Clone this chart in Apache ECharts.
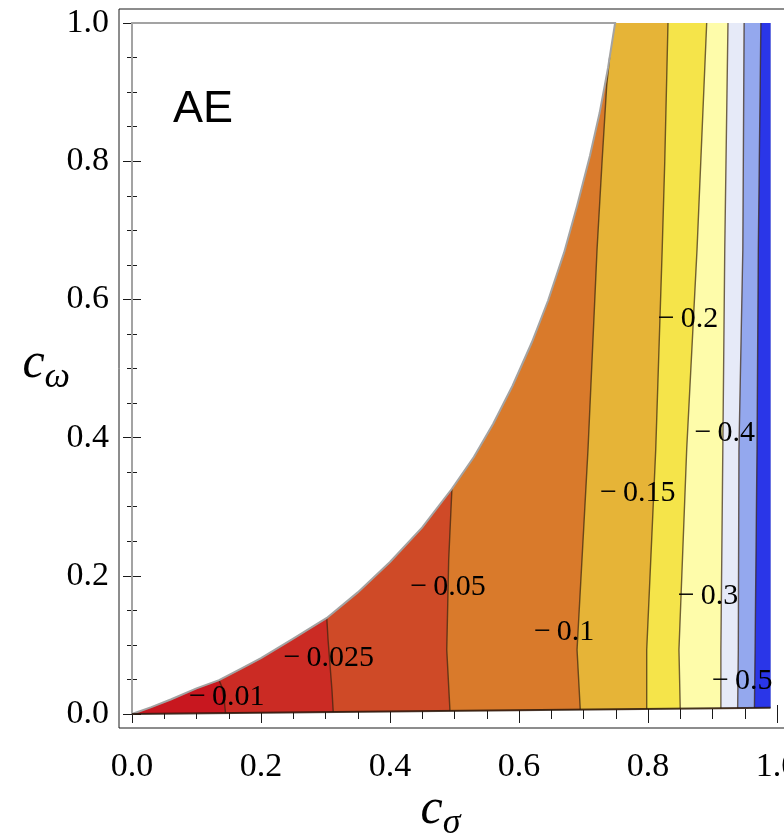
<!DOCTYPE html>
<html>
<head>
<meta charset="utf-8">
<style>
  html, body { margin: 0; padding: 0; background: #fff; }
  #chart { width: 784px; height: 838px; }
</style>
<script src="https://cdn.jsdelivr.net/npm/echarts@6/dist/echarts.min.js"></script>
</head>
<body>
<div id="chart"></div>
<script>
// tick labels
const xTickLabels = ['0.0', '0.2', '0.4', '0.6', '0.8', '1.0'];
const yTickLabels = ['0.0', '0.2', '0.4', '0.6', '0.8', '1.0'];

// upper-left edge of the region, from (0,0) to the top
const edgeUpper = [[0, 0], [0.03, 0.01], [0.06, 0.021], [0.1, 0.037], [0.135, 0.049], [0.17, 0.066],
  [0.2, 0.081], [0.25, 0.109], [0.302, 0.139], [0.35, 0.176], [0.4, 0.22], [0.45, 0.27], [0.496, 0.326],
  [0.53, 0.372], [0.56, 0.42], [0.59, 0.475], [0.62, 0.538], [0.645, 0.598], [0.67, 0.668], [0.69, 0.735],
  [0.71, 0.808], [0.725, 0.87], [0.738, 0.935], [0.749, 1.0]];
// lower edge of the region
const edgeLower = [[0, 0], [0.99, 0.009]];
const xRight = 0.99;

// contour levels, left to right
const levels = ['\u2212\u20090.01', '\u2212\u20090.025', '\u2212\u20090.05', '\u2212\u20090.1', '\u2212\u20090.15',
  '\u2212\u20090.2', '\u2212\u20090.3', '\u2212\u20090.4', '\u2212\u20090.5'];

// contour lines, each from the bottom up
const line001 = [[0.145, 0.0013], [0.143, 0.02], [0.139, 0.04], [0.135, 0.049]];
const line0025 = [[0.312, 0.0028], [0.31, 0.035], [0.304, 0.107], [0.302, 0.139]];
const line005 = [[0.493, 0.0045], [0.488, 0.093], [0.491, 0.223], [0.496, 0.326]];
const line01 = [[0.695, 0.0063], [0.69, 0.093], [0.707, 0.383], [0.721, 0.672], [0.729, 0.803], [0.736, 0.91], [0.7405, 0.95]];
const line015 = [[0.798, 0.0073], [0.798, 0.093], [0.812, 0.383], [0.822, 0.672], [0.826, 0.8], [0.831, 1.0]];
const line02 = [[0.85, 0.0077], [0.848, 0.093], [0.86, 0.383], [0.876, 0.672], [0.891, 1.0]];
const line03 = [[0.913, 0.0083], [0.913, 0.093], [0.916, 0.383], [0.919, 0.672], [0.924, 1.0]];
const line04 = [[0.939, 0.0085], [0.94, 0.093], [0.941, 0.383], [0.947, 0.672], [0.949, 1.0]];
const line05 = [[0.965, 0.0088], [0.966, 0.093], [0.969, 0.383], [0.971, 0.672], [0.975, 1.0]];
const contourLines = [line001, line0025, line005, line01, line015, line02, line03, line04, line05];

// where each contour label sits
const labelPos = [[0.147, 0.025], [0.305, 0.081], [0.49, 0.184], [0.67, 0.119], [0.784, 0.32],
  [0.862, 0.572], [0.893, 0.17], [0.919, 0.406], [0.946, 0.048]];

// fill colours, left band first
const bandColors = ['#C8171F', '#CB2B24', '#CF4A27', '#D97A2B', '#E6B437', '#F5E44A',
  '#FEFCAA', '#E6EAF8', '#94A8EE', '#2A36E8'];

const serif = '"Liberation Serif", "Times New Roman", serif';

function bandPolygon(k) {
  let pts;
  if (k === 0) {
    pts = edgeUpper.slice();
  } else {
    const line = contourLines[k - 1];
    const topY = line[line.length - 1][1];
    pts = line.concat(edgeUpper.filter(p => p[1] > topY));
  }
  pts.push([xRight, 1], [xRight, edgeLower[edgeLower.length - 1][1]]);
  return pts;
}

const tickStyle = { color: '#1a1a1a', width: 1 };
function frameAxis(pos, offset, withLabels) {
  return {
    type: 'value', min: 0, max: 1, interval: 0.2, position: pos, offset: offset,
    axisLine: { show: false },
    axisTick: { show: true, inside: true, length: 9, lineStyle: tickStyle },
    minorTick: { show: true, splitNumber: 4, length: 5, lineStyle: tickStyle },
    splitLine: { show: false },
    minorSplitLine: { show: false },
    axisLabel: { show: withLabels }
  };
}

const xBottom = frameAxis('bottom', 14, true);
xBottom.axisLabel = {
  show: true, margin: 22, color: '#000', fontFamily: serif, fontSize: 34,
  formatter: (v) => xTickLabels[Math.round(v * 5)]
};
xBottom.name = '{c|c}{s|\u03c3}';
xBottom.nameLocation = 'middle';
xBottom.nameGap = 50;
xBottom.nameMoveOverlap = false;
xBottom.nameTextStyle = {
  padding: [0, 28, 0, 0],
  rich: {
    c: { fontFamily: serif, fontStyle: 'italic', fontSize: 50, color: '#000', verticalAlign: 'middle' },
    s: { fontFamily: serif, fontStyle: 'italic', fontSize: 36, color: '#000', verticalAlign: 'middle', padding: [28, 0, 0, 0] }
  }
};

const yLeft = frameAxis('left', 13, true);
yLeft.axisLabel = {
  show: true, margin: 10, color: '#000', fontFamily: serif, fontSize: 34, padding: [11, 0, 0, 0],
  formatter: (v) => yTickLabels[Math.round(v * 5)]
};
yLeft.name = '{c|c}{s|\u03c9}';
yLeft.nameLocation = 'middle';
yLeft.nameRotate = 0;
yLeft.nameGap = 49;
yLeft.nameMoveOverlap = false;
yLeft.nameTextStyle = {
  padding: [0, 0, 9, 0],
  rich: {
    c: { fontFamily: serif, fontStyle: 'italic', fontSize: 50, color: '#000', verticalAlign: 'middle' },
    s: { fontFamily: serif, fontStyle: 'italic', fontSize: 36, color: '#000', verticalAlign: 'middle', padding: [28, 0, 0, 0] }
  }
};

const chart = echarts.init(document.getElementById('chart'), null, { renderer: 'canvas' });

const option = {
  animation: false,
  backgroundColor: '#fff',
  grid: [
    { left: 132, top: 23, right: 7, bottom: 124, outerBoundsMode: 'none', containLabel: false },
    { left: 119, top: 9, width: 666, height: 719, show: true, borderColor: '#1a1a1a', borderWidth: 1,
      backgroundColor: 'transparent', outerBoundsMode: 'none', containLabel: false }
  ],
  xAxis: [
    xBottom,
    frameAxis('top', 14, false),
    { type: 'value', gridIndex: 1, show: false, min: 0, max: 1 }
  ],
  yAxis: [
    yLeft,
    frameAxis('right', 8, false),
    { type: 'value', gridIndex: 1, show: false, min: 0, max: 1 }
  ],
  graphic: [{
    type: 'text', left: 173, top: 87, silent: true,
    style: { text: 'AE', font: '45px "Liberation Sans", Arial, sans-serif', fill: '#000' }
  }],
  series: [
    {
      // filled bands
      type: 'custom', silent: true, z: 1, clip: false,
      data: bandColors.map((c, i) => [i, 0]),
      renderItem: (params, api) => ({
        type: 'polygon',
        shape: { points: bandPolygon(params.dataIndex).map(p => api.coord(p)) },
        style: { fill: bandColors[params.dataIndex] }
      })
    },
    {
      // contour lines
      type: 'custom', silent: true, z: 2, clip: false,
      data: contourLines.map((l, i) => [i, 0]),
      renderItem: (params, api) => ({
        type: 'polyline',
        shape: { points: contourLines[params.dataIndex].map(p => api.coord(p)) },
        style: { fill: null, stroke: 'rgba(55,35,15,0.7)', lineWidth: 1.4 }
      })
    },
    {
      // region edges
      type: 'custom', silent: true, z: 3, clip: false,
      data: [[0, 0], [1, 0]],
      renderItem: (params, api) => {
        if (params.dataIndex === 0) {
          const pts = [[0, 0], [0, 1]].concat(edgeUpper.slice().reverse());
          return {
            type: 'polyline',
            shape: { points: pts.map(p => api.coord(p)) },
            style: { fill: null, stroke: '#a3a3a3', lineWidth: 2 }
          };
        }
        return {
          type: 'polyline',
          shape: { points: edgeLower.map(p => api.coord(p)) },
          style: { fill: null, stroke: 'rgba(40,22,10,0.85)', lineWidth: 2 }
        };
      }
    },
    {
      // contour labels
      type: 'custom', silent: true, z: 4, clip: false,
      data: labelPos.map((p, i) => [p[0], p[1], i]),
      renderItem: (params, api) => {
        const pt = api.coord([api.value(0), api.value(1)]);
        return {
          type: 'text',
          x: pt[0], y: pt[1],
          style: {
            text: levels[params.dataIndex],
            fontFamily: serif, fontSize: 30, fill: '#000',
            align: 'center', verticalAlign: 'middle'
          }
        };
      }
    }
  ]
};

chart.setOption(option);
</script>
</body>
</html>
